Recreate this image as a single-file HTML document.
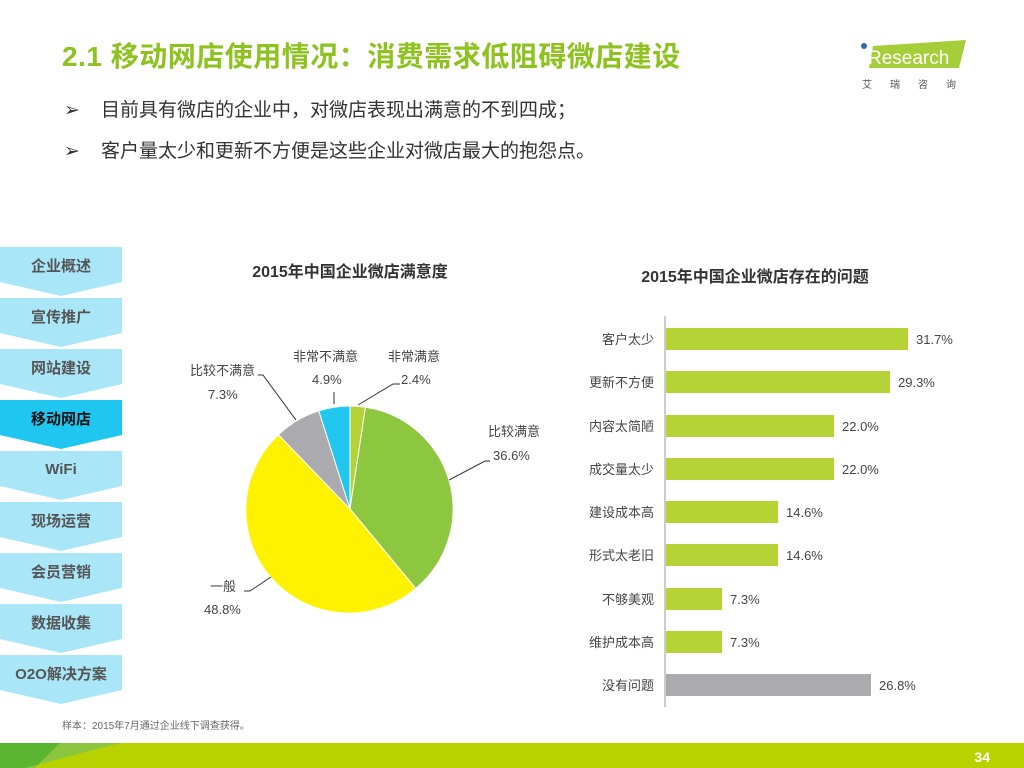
<!DOCTYPE html>
<html><head><meta charset="utf-8"><style>
body{margin:0;width:1024px;height:768px;position:relative;background:#fff;font-family:"Liberation Sans","Noto Sans CJK SC",sans-serif;overflow:hidden}
.t{position:absolute;white-space:nowrap}
</style></head><body>
<div class="t" style="left:62px;top:35px;font-size:28px;font-weight:bold;color:#8dc21f;letter-spacing:0.5px">2.1 移动网店使用情况：消费需求低阻碍微店建设</div>
<div class="t" style="left:64px;top:95px;font-size:19px;color:#333">➢&nbsp;&nbsp;&nbsp;&nbsp;目前具有微店的企业中，对微店表现出满意的不到四成；</div>
<div class="t" style="left:64px;top:136px;font-size:19px;color:#333">➢&nbsp;&nbsp;&nbsp;&nbsp;客户量太少和更新不方便是这些企业对微店最大的抱怨点。</div>
<svg style="position:absolute;left:0;top:0" width="1024" height="768">
<polygon points="873,46 966,40 959,68 869,68" fill="#a6ce39"/>
<circle cx="864" cy="46" r="3" fill="#2a6db5"/>
<text x="861" y="64" font-size="19" fill="#fff" font-family="Liberation Sans">i</text>
<text x="868" y="64" font-size="19" fill="#fff" font-family="Liberation Sans">Research</text>
<text x="862" y="88" font-size="10" fill="#555" font-family="Noto Sans CJK SC" letter-spacing="18">艾瑞咨询</text>
<g font-family="Liberation Sans,Noto Sans CJK SC,sans-serif" font-size="15" font-weight="bold" text-anchor="middle" fill="#555">
<polygon points="0,247 122,247 122,282 61,296 0,282" fill="#a9e6f8"/><text x="61" y="271">企业概述</text>
<polygon points="0,298 122,298 122,333 61,347 0,333" fill="#a9e6f8"/><text x="61" y="322">宣传推广</text>
<polygon points="0,349 122,349 122,384 61,398 0,384" fill="#a9e6f8"/><text x="61" y="373">网站建设</text>
<polygon points="0,400 122,400 122,435 61,449 0,435" fill="#1fc6f0"/><text x="61" y="424" fill="#111">移动网店</text>
<polygon points="0,451 122,451 122,486 61,500 0,486" fill="#a9e6f8"/><text x="61" y="474">WiFi</text>
<polygon points="0,502 122,502 122,537 61,551 0,537" fill="#a9e6f8"/><text x="61" y="526">现场运营</text>
<polygon points="0,553 122,553 122,588 61,602 0,588" fill="#a9e6f8"/><text x="61" y="577">会员营销</text>
<polygon points="0,604 122,604 122,639 61,653 0,639" fill="#a9e6f8"/><text x="61" y="628">数据收集</text>
<polygon points="0,655 122,655 122,690 61,704 0,690" fill="#a9e6f8"/><text x="61" y="679">O2O解决方案</text>
</g>
<g font-family="Liberation Sans,Noto Sans CJK SC,sans-serif">
<text x="350" y="277" font-size="16" font-weight="bold" text-anchor="middle" fill="#333">2015年中国企业微店满意度</text>
<text x="755" y="282" font-size="16" font-weight="bold" text-anchor="middle" fill="#333">2015年中国企业微店存在的问题</text>
<g stroke="#fff" stroke-width="1">
<path d="M350,509 L350,406 A103,103 0 0 1 365.5,407.2Z" fill="#b5d334"/>
<path d="M350,509 L365.5,407.2 A103,103 0 0 1 415.7,588.4Z" fill="#8dc63f"/>
<path d="M350,509 L415.7,588.4 A103,103 0 0 1 278.5,434.8Z" fill="#fff200"/>
<path d="M350,509 L278.5,434.8 A103,103 0 0 1 318.8,410.8Z" fill="#ababaf"/>
<path d="M350,509 L318.8,410.8 A103,103 0 0 1 350,406Z" fill="#22c7f0"/>
</g>
<g stroke="#333" fill="none" stroke-width="1">
<polyline points="358,405 393,384 400,384"/>
<polyline points="334,404 334,392"/>
<polyline points="296,420 263,375 258,375"/>
<polyline points="449,480 485,461 490,461"/>
<polyline points="271,577 250,591 244,591"/>
</g>
<g font-size="13" fill="#444">
<text x="293" y="361">非常不满意</text><text x="312" y="384">4.9%</text>
<text x="388" y="361">非常满意</text><text x="401" y="384">2.4%</text>
<text x="190" y="375">比较不满意</text><text x="208" y="399">7.3%</text>
<text x="488" y="436">比较满意</text><text x="493" y="460">36.6%</text>
<text x="210" y="591">一般</text><text x="204" y="614">48.8%</text>
</g>
<line x1="665" y1="316" x2="665" y2="707" stroke="#999"/>
<g fill="#b5d334">
<rect x="666" y="328" width="242" height="22"/><rect x="666" y="371" width="224" height="22"/>
<rect x="666" y="415" width="168" height="22"/><rect x="666" y="458" width="168" height="22"/>
<rect x="666" y="501" width="112" height="22"/><rect x="666" y="544" width="112" height="22"/>
<rect x="666" y="588" width="56" height="22"/><rect x="666" y="631" width="56" height="22"/>
<rect x="666" y="674" width="205" height="22" fill="#ababaf"/>
</g>
<g font-size="13" fill="#444" text-anchor="end">
<text x="654" y="344">客户太少</text><text x="654" y="387">更新不方便</text><text x="654" y="431">内容太简陋</text>
<text x="654" y="474">成交量太少</text><text x="654" y="517">建设成本高</text><text x="654" y="560">形式太老旧</text>
<text x="654" y="604">不够美观</text><text x="654" y="647">维护成本高</text><text x="654" y="690">没有问题</text>
</g>
<g font-size="13" fill="#444">
<text x="916" y="344">31.7%</text><text x="898" y="387">29.3%</text><text x="842" y="431">22.0%</text>
<text x="842" y="474">22.0%</text><text x="786" y="517">14.6%</text><text x="786" y="560">14.6%</text>
<text x="730" y="604">7.3%</text><text x="730" y="647">7.3%</text><text x="879" y="690">26.8%</text>
</g>
<text x="62" y="729" font-size="10" fill="#666">样本：2015年7月通过企业线下调查获得。</text>
</g>
<rect x="0" y="743" width="1024" height="25" fill="#b8d200"/>
<polygon points="0,743 60,743 35,768 0,768" fill="#5cb531"/>
<polygon points="60,743 120,743 25,768 35,768" fill="#8cc63f"/>
<text x="990" y="762" font-size="14" font-weight="bold" fill="#fff" text-anchor="end" font-family="Liberation Sans">34</text>
</svg>
</body></html>
